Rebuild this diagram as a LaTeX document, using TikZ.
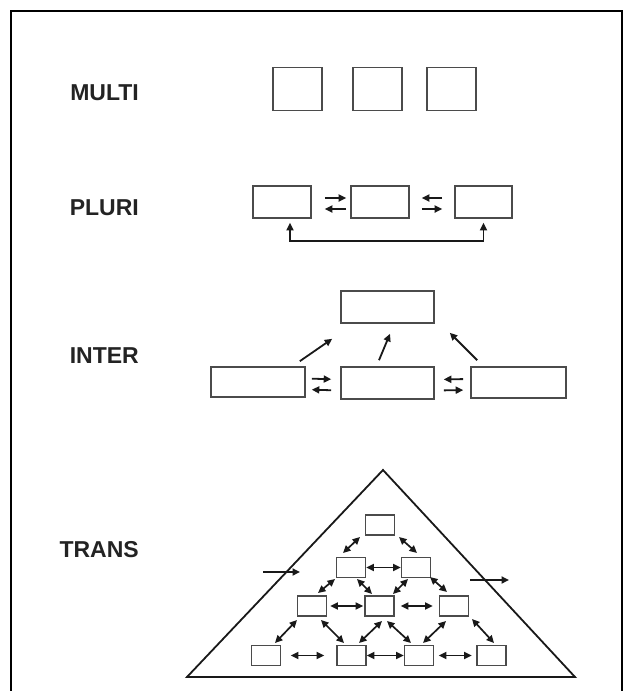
\documentclass[tikz,border=0pt]{standalone}
\usepackage{fontspec}
\setmainfont{Liberation Sans}
\usetikzlibrary{arrows.meta,calc}
\definecolor{boxgray}{RGB}{75,75,75}
\definecolor{ink}{RGB}{25,25,25}
\definecolor{labgray}{RGB}{35,35,35}
\tikzset{
  box/.style={draw=boxgray, line width=1.6pt, fill=white, inner sep=0pt, rectangle},
  lab/.style={inner sep=0pt, anchor=base east, text=labgray, font=\fontsize{23}{27}\selectfont\bfseries},
  arr/.style={draw=ink, line width=1.8pt, -{Triangle[length=7.5pt,width=7pt]}},
  darr/.style={draw=ink, line width=1.7pt, {Triangle[length=7.5pt,width=7pt]}-{Triangle[length=7.5pt,width=7pt]}},
  frame/.style={draw=black, line width=2.2pt},
  pyr/.style={draw=ink, line width=1.8pt, line join=miter}
}
\begin{document}
\begin{tikzpicture}[x=1pt,y=-1pt]
\useasboundingbox (0,0) rectangle (625,691);
\fill[white] (0,0) rectangle (625,691);
% frame
\coordinate (fbl) at (11,700);
\coordinate (ftl) at (11,11);
\coordinate (ftr) at (622,11);
\coordinate (fbr) at (622,700);
\draw[frame] (fbl) -- (ftl) -- (ftr) -- (fbr);

% labels
\node[lab] (lmulti) at (139,100) {MULTI};
\node[lab] (lpluri) at (139,215) {PLURI};
\node[lab] (linter) at (139,363) {INTER};
\node[lab] (ltrans) at (139,557) {TRANS};

% MULTI
\node[box, minimum width=49pt, minimum height=43pt] (m1) at (297.5,89) {};
\node[box, minimum width=49pt, minimum height=43pt] (m2) at (377.5,89) {};
\node[box, minimum width=49pt, minimum height=43pt] (m3) at (451.5,89) {};

% PLURI
\node[box, minimum width=58pt, minimum height=32pt] (p1) at (282,202) {};
\node[box, minimum width=58pt, minimum height=32pt] (p2) at (380,202) {};
\node[box, minimum width=57pt, minimum height=32pt] (p3) at (483.5,202) {};
\draw[arr, shorten <=13pt, shorten >=4pt] ([yshift=4pt]p1.east) -- ([yshift=4pt]p2.west);
\draw[arr, shorten <=4pt, shorten >=13pt] ([yshift=-7pt]p2.west) -- ([yshift=-7pt]p1.east);
\draw[arr, shorten <=12pt, shorten >=12pt] ([yshift=4pt]p3.west) -- ([yshift=4pt]p2.east);
\draw[arr, shorten <=12pt, shorten >=12pt] ([yshift=-7pt]p2.east) -- ([yshift=-7pt]p3.west);
\draw[darr, line join=miter] ([xshift=8pt,yshift=-4pt]p1.south) -- ++(0,18) -| ([yshift=-4pt]p3.south);

% INTER
\node[box, minimum width=93pt, minimum height=32pt] (i0) at (387.5,307) {};
\node[box, minimum width=94pt, minimum height=30pt] (i1) at (258,382) {};
\node[box, minimum width=93pt, minimum height=32pt] (i2) at (387.5,383) {};
\node[box, minimum width=95pt, minimum height=31pt] (i3) at (518.5,382.5) {};
\draw[arr] ($(i1.north east)+(-6,-5)$) -- ($(i0.south west)+(-8,15)$);
\draw[arr] ($(i2.north)+(-8.5,-6)$) -- ($(i0.south)+(2.5,10)$);
\draw[arr] ($(i3.north west)+(7,-6)$) -- ($(i0.south east)+(15,9)$);
\draw[arr, shorten <=6pt, shorten >=9pt] ([yshift=3.5pt]i1.east) -- ([yshift=3.5pt]i2.west);
\draw[arr, shorten <=9pt, shorten >=6pt] ([yshift=-7.5pt]i2.west) -- ([yshift=-7.5pt]i1.east);
\draw[arr, shorten <=7pt, shorten >=9pt] ([yshift=3.5pt]i3.west) -- ([yshift=3.5pt]i2.east);
\draw[arr, shorten <=9pt, shorten >=7pt] ([yshift=-7.5pt]i2.east) -- ([yshift=-7.5pt]i3.west);

% TRANS pyramid
\coordinate (apex) at (383,470);
\coordinate (bl) at (187,677);
\coordinate (br) at (575,677);
\draw[pyr] (apex) -- (bl) -- (br) -- cycle;

\tikzset{tb/.style={box, minimum width=29pt, minimum height=20pt}}
\node[tb] (t1) at (380,525) {};
\node[tb] (t2a) at (351,567.5) {};
\node[tb] (t2b) at (416,567.5) {};
\node[tb] (t3a) at (312,606) {};
\node[tb] (t3b) at (379.5,606) {};
\node[tb] (t3c) at (454,606) {};
\node[tb] (t4a) at (266,655.5) {};
\node[tb] (t4b) at (351.5,655.5) {};
\node[tb] (t4c) at (419,655.5) {};
\node[tb] (t4d) at (491.5,655.5) {};

\draw[darr] ($(t1)+(-20,12)$) -- ($(t2a)+(-8,-14.5)$);
\draw[darr] ($(t1)+(19,12)$) -- ($(t2b)+(1,-14.5)$);
\draw[darr] (t2a) -- (t2b);
\draw[darr] ($(t2a)+(-16,11.5)$) -- ($(t3a)+(6,-13)$);
\draw[darr] ($(t2a)+(6,11.5)$) -- ($(t3b)+(-7.5,-12)$);
\draw[darr] ($(t2b)+(-8,11.5)$) -- ($(t3b)+(13.5,-12)$);
\draw[darr] ($(t2b)+(14,9.5)$) -- ($(t3c)+(-7,-14)$);
\draw[darr, shorten <=3pt, shorten >=1pt] (t3a) -- (t3b);
\draw[darr, shorten <=6pt, shorten >=6pt] (t3b) -- (t3c);
\draw[darr] ($(t3a)+(-15,14)$) -- ($(t4a)+(9,-12.5)$);
\draw[darr] ($(t3a)+(9,14)$) -- ($(t4b)+(-7.5,-12.5)$);
\draw[darr] ($(t3b)+(2.5,15)$) -- ($(t4b)+(7.5,-12.5)$);
\draw[darr] ($(t3b)+(7.5,15)$) -- ($(t4c)+(-8,-12.5)$);
\draw[darr] ($(t3c)+(-8,15)$) -- ($(t4c)+(4,-12.5)$);
\draw[darr] ($(t3c)+(18,13)$) -- ($(t4d)+(2.5,-12.5)$);
\draw[darr, shorten <=9.5pt, shorten >=12pt] (t4a) -- (t4b);
\draw[darr] (t4b) -- (t4c);
\draw[darr, shorten <=4.5pt, shorten >=4.5pt] (t4c) -- (t4d);

% side arrows
\coordinate (inS) at (263,572);
\coordinate (inE) at (300,572);
\coordinate (outS) at (470,580);
\coordinate (outE) at (509,580);
\draw[arr] (inS) -- (inE);
\draw[arr] (outS) -- (outE);
\end{tikzpicture}
\end{document}
